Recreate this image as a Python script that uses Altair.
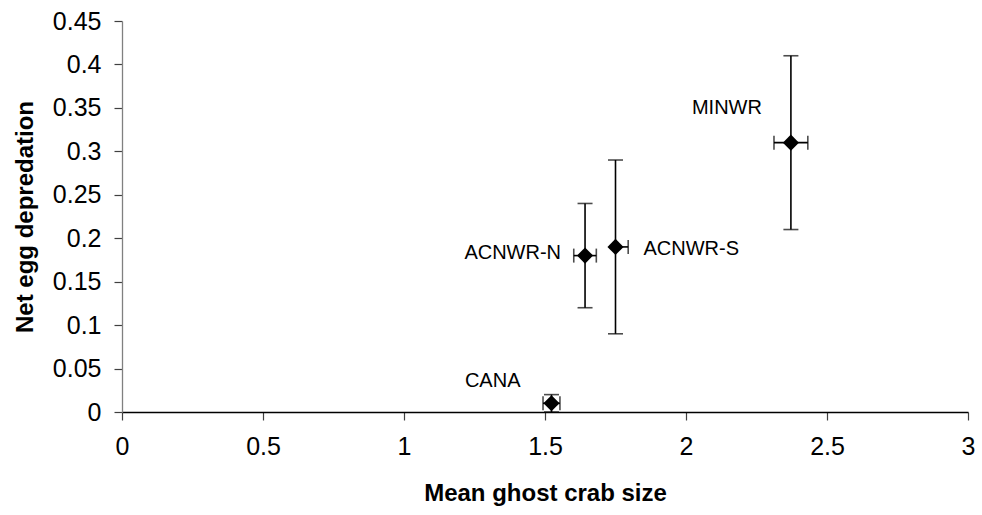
import altair as alt
import pandas as pd

# Study sites with mean ghost crab size and net egg depredation (± error)
sites = ["CANA", "ACNWR-N", "ACNWR-S", "MINWR"]
crab_size = [1.523, 1.642, 1.75, 2.372]
crab_size_err_minus = [0.03, 0.04, 0.0, 0.06]
crab_size_err_plus = [0.03, 0.04, 0.045, 0.06]
depredation = [0.01, 0.18, 0.19, 0.31]
depredation_err = [0.01, 0.06, 0.10, 0.10]

# label placement offsets (pixels) and alignment for each site name
label_dx = [-31, -24, 28, -29]
label_dy = [-22, -3, 2, -35]
label_align = ["right", "right", "left", "right"]

x_ticks = [0, 0.5, 1, 1.5, 2, 2.5, 3]
y_ticks = [0, 0.05, 0.1, 0.15, 0.2, 0.25, 0.3, 0.35, 0.4, 0.45]

df = pd.DataFrame({
    "site": sites,
    "x": crab_size,
    "y": depredation,
    "x_lo": [v - e for v, e in zip(crab_size, crab_size_err_minus)],
    "x_hi": [v + e for v, e in zip(crab_size, crab_size_err_plus)],
    "y_lo": [v - e for v, e in zip(depredation, depredation_err)],
    "y_hi": [v + e for v, e in zip(depredation, depredation_err)],
    "has_left": [e > 0 for e in crab_size_err_minus],
})

FONT = "Liberation Sans"
W, H = 846, 391

x_scale = alt.Scale(domain=[0, 3], nice=False, zero=False)
y_scale = alt.Scale(domain=[0, 0.45], nice=False, zero=False)

x_axis = alt.Axis(
    values=x_ticks, format="~g", title="Mean ghost crab size", grid=False,
    domainColor="black", tickColor="#404040", tickSize=8, domainWidth=1.3, tickWidth=1.2,
    labelFont=FONT, labelFontSize=25, labelColor="black", labelPadding=14,
    labelFlush=False, labelOverlap=False,
    titleFont=FONT, titleFontSize=24, titleFontWeight="bold", titleColor="black",
    titleX=W / 2, titleY=81, titleBaseline="middle", titleAlign="center",
)
y_axis = alt.Axis(
    values=y_ticks, format="~g", title="Net egg depredation", grid=False,
    domainColor="#808080", tickColor="#404040", tickSize=8, domainWidth=1.3, tickWidth=1.2,
    labelFont=FONT, labelFontSize=25, labelColor="black", labelPadding=13,
    labelFlush=False, labelOverlap=False,
    titleFont=FONT, titleFontSize=24, titleFontWeight="bold", titleColor="black",
    titleAngle=-90, titleX=-97, titleY=H / 2, titleBaseline="middle", titleAlign="center",
)

base = alt.Chart(df)

# invisible layer that carries the axes
axes = base.mark_point(opacity=0).encode(
    x=alt.X("x:Q", scale=x_scale, axis=x_axis),
    y=alt.Y("y:Q", scale=y_scale, axis=y_axis),
)

yerr = base.mark_rule(color="black", strokeWidth=1.6).encode(
    x="x:Q", y="y_lo:Q", y2="y_hi:Q"
)
xerr = base.mark_rule(color="black", strokeWidth=1.6).encode(
    x="x_lo:Q", x2="x_hi:Q", y="y:Q"
)
ycap_lo = base.mark_tick(color="black", orient="horizontal", size=15, thickness=1.6).encode(
    x="x:Q", y="y_lo:Q"
)
ycap_hi = base.mark_tick(color="black", orient="horizontal", size=15, thickness=1.6).encode(
    x="x:Q", y="y_hi:Q"
)
xcap_lo = base.transform_filter("datum.has_left").mark_tick(
    color="black", orient="vertical", size=14, thickness=1.6
).encode(x="x_lo:Q", y="y:Q")
xcap_hi = base.mark_tick(color="black", orient="vertical", size=14, thickness=1.6).encode(
    x="x_hi:Q", y="y:Q"
)

points = base.mark_point(shape="diamond", filled=True, color="black", size=260, opacity=1).encode(
    x="x:Q", y="y:Q"
)

labels = []
for i, s in enumerate(sites):
    labels.append(
        base.transform_filter(alt.datum.site == s).mark_text(
            font=FONT, fontSize=20, color="black", align=label_align[i],
            baseline="middle", dx=label_dx[i], dy=label_dy[i],
        ).encode(x="x:Q", y="y:Q", text="site:N")
    )

chart = alt.layer(
    axes, yerr, xerr, ycap_lo, ycap_hi, xcap_lo, xcap_hi, points, *labels
).properties(
    width=W, height=H,
    background="white",
    autosize=alt.AutoSizeParams(type="none"),
    padding={"left": 122, "top": 21, "right": 14, "bottom": 103},
).configure_view(stroke="transparent", strokeWidth=0)

chart.save("out.html", embed_options={"renderer": "svg", "actions": False})
